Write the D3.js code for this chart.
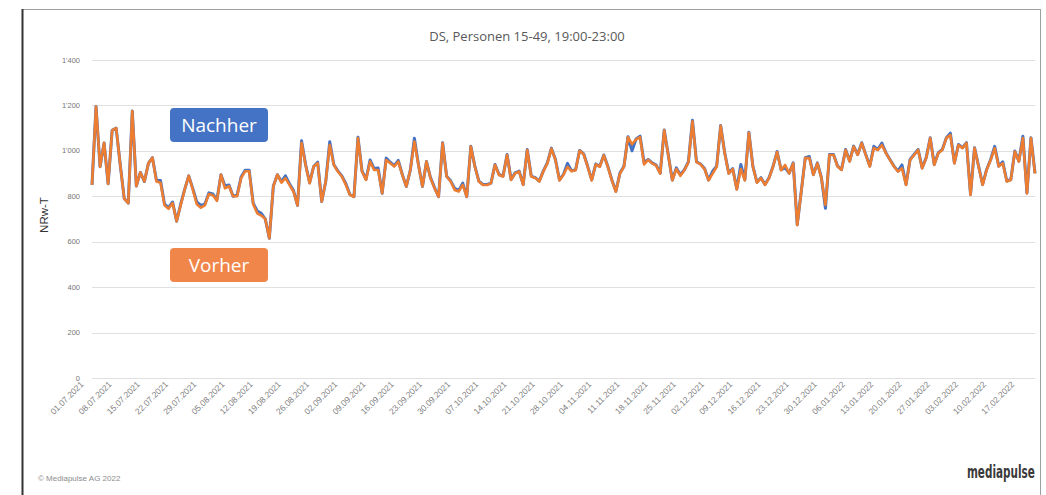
<!DOCTYPE html>
<html>
<head>
<meta charset="utf-8">
<script src="https://cdn.jsdelivr.net/npm/d3@7"></script>
<style>
  body { margin: 0; background: #fff; }
  svg { display: block; }
</style>
</head>
<body>
<svg id="chart" width="1046" height="495"></svg>
<script>
// Data: daily NRw-T, 01.07.2021 onwards
var startDate = "01.07.2021";

var vorher = [
  850, 1195, 930, 1035, 855, 1090, 1100, 940, 790, 770,
  1175, 845, 905, 865, 945, 970, 865, 860, 760, 745,
  770, 690, 760, 830, 890, 830, 765, 750, 760, 810,
  805, 780, 895, 835, 845, 800, 800, 880, 910, 910,
  765, 725, 715, 700, 615, 845, 895, 860, 880, 850,
  820, 760, 1035, 938, 857, 931, 946, 777, 865, 1026,
  938, 909, 887, 850, 806, 798, 1056, 909, 872, 953,
  916, 916, 813, 960, 946, 931, 953, 894, 843, 916,
  1041, 938, 843, 953, 880, 835, 798, 1034, 887, 865,
  828, 821, 850, 798, 1019, 931, 865, 850, 850, 857,
  938, 894, 887, 982, 872, 901, 909, 850, 1004, 887,
  880, 865, 910, 945, 1010, 960, 870, 895, 930, 910,
  915, 1000, 985, 930, 870, 940, 930, 980, 930, 870,
  820, 900, 930, 1060, 1030, 1050, 1060, 940, 960, 945,
  935, 900, 1090, 980, 870, 920, 890, 915, 950, 1130,
  950, 940, 920, 870, 900, 930, 1110, 990, 900, 920,
  830, 920, 870, 1080, 930, 860, 880, 850, 880, 930,
  995, 915, 938, 900, 945, 673, 820, 968, 968, 894,
  945, 880, 762, 982, 982, 931, 916, 1004, 953, 1019,
  982, 1034, 982, 931, 1012, 1004, 1026, 990, 960, 931,
  909, 923, 850, 960, 982, 1004, 923, 968, 1056, 938,
  990, 1004, 1056, 1070, 945, 1026, 1012, 1034, 806, 1012,
  931, 850, 916, 960, 1012, 931, 945, 865, 872, 997,
  953, 1056, 813, 1056, 900
];

var nachher = [
  850, 1195, 930, 1035, 855, 1090, 1100, 940, 790, 770,
  1175, 845, 905, 865, 945, 970, 870, 870, 765, 750,
  775, 690, 765, 830, 890, 835, 775, 760, 765, 815,
  810, 785, 895, 845, 850, 800, 805, 885, 915, 915,
  770, 735, 725, 700, 615, 845, 895, 865, 890, 855,
  825, 760, 1045, 940, 860, 931, 950, 777, 865, 1040,
  940, 912, 890, 855, 808, 798, 1060, 912, 875, 960,
  922, 925, 813, 968, 950, 935, 958, 896, 843, 916,
  1056, 940, 843, 953, 882, 838, 798, 1036, 888, 868,
  835, 825, 858, 798, 1020, 933, 867, 852, 852, 858,
  940, 896, 889, 984, 874, 903, 911, 852, 1006, 889,
  882, 867, 912, 948, 1012, 962, 872, 897, 945, 912,
  917, 1002, 987, 932, 872, 942, 932, 982, 932, 872,
  822, 902, 932, 1062, 1000, 1052, 1065, 948, 962, 947,
  937, 902, 1092, 982, 872, 925, 895, 917, 952, 1135,
  952, 942, 922, 872, 910, 932, 1112, 992, 902, 922,
  832, 940, 872, 1082, 932, 862, 882, 852, 882, 932,
  997, 917, 925, 902, 947, 675, 822, 970, 975, 896,
  947, 882, 747, 984, 984, 933, 918, 1006, 955, 1021,
  984, 1036, 984, 933, 1020, 1006, 1034, 992, 962, 933,
  911, 938, 852, 962, 984, 1006, 925, 970, 1058, 940,
  992, 1006, 1058, 1078, 947, 1028, 1014, 1036, 808, 1014,
  933, 852, 918, 962, 1020, 933, 952, 867, 874, 999,
  955, 1064, 815, 1058, 902
];

var yTicks = [0, 200, 400, 600, 800, 1000, 1200, 1400];

var xTickLabels = [
  "01.07.2021", "08.07.2021", "15.07.2021", "22.07.2021", "29.07.2021",
  "05.08.2021", "12.08.2021", "19.08.2021", "26.08.2021", "02.09.2021",
  "09.09.2021", "16.09.2021", "23.09.2021", "30.09.2021", "07.10.2021",
  "14.10.2021", "21.10.2021", "28.10.2021", "04.11.2021", "11.11.2021",
  "18.11.2021", "25.11.2021", "02.12.2021", "09.12.2021", "16.12.2021",
  "23.12.2021", "30.12.2021", "06.01.2022", "13.01.2022", "20.01.2022",
  "27.01.2022", "03.02.2022", "10.02.2022", "17.02.2022"
];

var title = "DS, Personen 15-49, 19:00-23:00";
var yTitle = "NRw-T";
var footer = "\u00a9 Mediapulse AG 2022";

var parseDate = d3.timeParse("%d.%m.%Y");
var start = parseDate(startDate);
var dateAt = function (i) { return d3.timeDay.offset(start, i); };

var svg = d3.select("#chart");

// frame
svg.append("rect")
  .attr("x", 22.5).attr("y", 9.5)
  .attr("width", 1018).attr("height", 491)
  .attr("fill", "#fff")
  .attr("stroke", "#a0a0a0")
  .attr("stroke-width", 1);
svg.append("line")
  .attr("x1", 22.5).attr("x2", 22.5)
  .attr("y1", 9).attr("y2", 495)
  .attr("stroke", "#333").attr("stroke-width", 2);

var x = d3.scaleTime()
  .domain([start, dateAt(vorher.length - 1)])
  .range([92, 1035]);

var y = d3.scaleLinear()
  .domain([0, 1400])
  .range([378, 60]);

var fmt = d3.formatLocale({ decimal: ".", thousands: "'", grouping: [3], currency: ["", ""] }).format(",");

// title
svg.append("text")
  .attr("x", 527).attr("y", 41)
  .attr("text-anchor", "middle")
  .attr("font-family", "Open Sans, sans-serif")
  .attr("font-size", 13)
  .attr("fill", "#595959")
  .text(title);

// gridlines + y labels
var yAxis = svg.append("g");
yAxis.selectAll("line").data(yTicks).enter().append("line")
  .attr("x1", 92).attr("x2", 1035)
  .attr("y1", function (d) { return Math.round(y(d)) + 0.5; })
  .attr("y2", function (d) { return Math.round(y(d)) + 0.5; })
  .attr("stroke", "#e0e0e0").attr("stroke-width", 1);
yAxis.selectAll("text").data(yTicks).enter().append("text")
  .attr("x", 80)
  .attr("y", function (d) { return y(d) + 2.5; })
  .attr("text-anchor", "end")
  .attr("font-family", "Liberation Sans, sans-serif")
  .attr("font-size", 7.5)
  .attr("fill", "#777")
  .text(function (d) { return fmt(d); });

svg.append("text")
  .attr("transform", "translate(48,215) rotate(-90)")
  .attr("text-anchor", "middle")
  .attr("font-family", "Liberation Sans, sans-serif")
  .attr("font-size", 11.5)
  .attr("fill", "#333")
  .text(yTitle);

// x labels
svg.append("g").selectAll("text").data(xTickLabels).enter().append("text")
  .attr("transform", function (d) {
    return "translate(" + (x(parseDate(d)) - 8) + ",385) rotate(-45)";
  })
  .attr("text-anchor", "end")
  .attr("font-family", "Liberation Sans, sans-serif")
  .attr("font-size", 8.5)
  .attr("fill", "#808080")
  .text(function (d) { return d; });

// lines
var line = d3.line()
  .x(function (d, i) { return x(dateAt(i)); })
  .y(function (d) { return y(d); });

svg.append("path")
  .datum(nachher)
  .attr("d", line)
  .attr("fill", "none")
  .attr("stroke", "#4472c4")
  .attr("stroke-width", 3)
  .attr("stroke-linejoin", "round");

svg.append("path")
  .datum(vorher)
  .attr("d", line)
  .attr("fill", "none")
  .attr("stroke", "#ed7d31")
  .attr("stroke-width", 2.6)
  .attr("stroke-linejoin", "round");

// legend boxes
var legend = [
  { name: "Nachher", color: "#4472c4", y: 108 },
  { name: "Vorher", color: "#f0864a", y: 248 }
];
var lg = svg.append("g").selectAll("g").data(legend).enter().append("g");
lg.append("rect")
  .attr("x", 170).attr("y", function (d) { return d.y; })
  .attr("width", 98).attr("height", 34)
  .attr("rx", 4)
  .attr("fill", function (d) { return d.color; });
lg.append("text")
  .attr("x", 219).attr("y", function (d) { return d.y + 24; })
  .attr("text-anchor", "middle")
  .attr("font-family", "Open Sans, sans-serif")
  .attr("font-size", 19)
  .attr("fill", "#fff")
  .text(function (d) { return d.name; });

// footer
svg.append("text")
  .attr("x", 38).attr("y", 481)
  .attr("font-family", "Liberation Sans, sans-serif")
  .attr("font-size", 8)
  .attr("fill", "#8c8c8c")
  .text(footer);

// logo
svg.append("text")
  .attr("transform", "translate(967,478) scale(0.58,1)")
  .attr("font-family", "DejaVu Sans, sans-serif")
  .attr("font-weight", "bold")
  .attr("font-size", 18)
  .attr("fill", "#3a3a3a")
  .text("mediapulse");
</script>
</body>
</html>
